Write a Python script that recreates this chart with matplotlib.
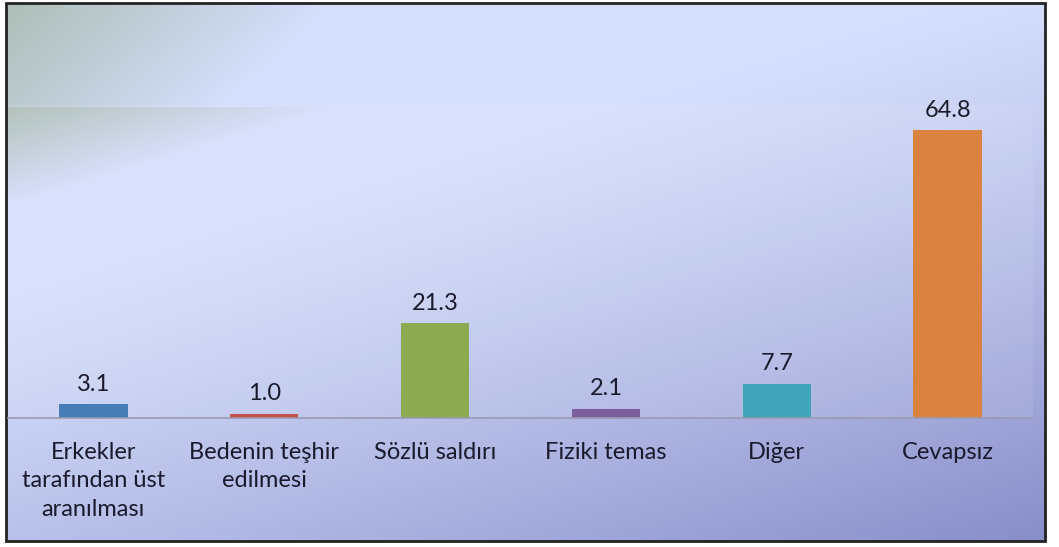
import numpy as np
import matplotlib.pyplot as plt
from matplotlib.patches import Rectangle

# data
categories = ["Erkekler\ntarafından üst\naranılması", "Bedenin teşhir\nedilmesi",
              "Sözlü saldırı", "Fiziki temas", "Diğer", "Cevapsız"]
values = [3.1, 1.0, 21.3, 2.1, 7.7, 64.8]
value_labels = ["3.1", "1.0", "21.3", "2.1", "7.7", "64.8"]
bar_colors = ["#467db4", "#c3504b", "#8caa50", "#7d5fa0", "#41a5b9", "#dc8241"]

plt.rcParams['font.family'] = ['Lato', 'DejaVu Sans']

W, H = 1059, 547
fig = plt.figure(figsize=(W / 100, H / 100), dpi=100)

# background gradient
bg = fig.add_axes([0, 0, 1, 1], zorder=-2)
u = np.linspace(0, 1, W)[None, :]
v = np.linspace(0, 1, H)[:, None]
t = np.clip((0.6 * u + v - 0.55) / 1.05, 0, 1) ** 1.2
light = np.array([213, 222, 252]) / 255
dark = np.array([135, 140, 200]) / 255
img = light[None, None, :] * (1 - t[..., None]) + dark[None, None, :] * t[..., None]

# greyish-green shading in the upper left
green = np.array([155, 175, 150]) / 255
px = np.arange(W)[None, :]
py = np.arange(H)[:, None]
a1 = np.clip(1 - px / 330 - (py - 3) / 104 * 0.35, 0, 1) * ((py >= 3) & (py < 107))
a2 = np.clip(1 - px / 330 - (py - 107) / 90 * 0.9, 0, 1) * ((py >= 107) & (py < 200))
alpha = np.maximum(a1 * 0.7, a2 * 0.7)[..., None]
img = img * (1 - alpha) + green[None, None, :] * alpha

img[:, :6] = 1
img[:, 1046:] = 1
img[:3, :] = 1
img[542:, :] = 1
bg.imshow(img, aspect='auto', extent=(0, W, H, 0))
bg.set_xlim(0, W)
bg.set_ylim(H, 0)
bg.axis('off')
bg.add_patch(Rectangle((6, 3), 1039, 538, fill=False, edgecolor='#222222', lw=2))

# chart axes (pixel -> fraction)
x0, x1 = 8, 1033
ytop, ybase = 105, 418
ax = fig.add_axes([x0 / W, 1 - ybase / H, (x1 - x0) / W, (ybase - ytop) / H])
ax.set_facecolor((1, 1, 1, 0.08))

x = np.arange(len(categories))
ax.bar(x, values, width=0.4, color=bar_colors)
for xi, val, lab in zip(x, values, value_labels):
    ax.annotate(lab, (xi, val), xytext=(0, 7), textcoords='offset points',
                ha='center', va='bottom', fontsize=17, color='#1a1a2c')

ax.set_xlim(-0.5, len(categories) - 0.5)
ax.set_ylim(0, 70.5)
ax.set_yticks([])
ax.set_xticks(x)
ax.set_xticklabels(categories, fontsize=17, color='#1a1a2c', linespacing=1.45)
ax.tick_params(axis='x', length=0, pad=17)
for s in ['top', 'right', 'left']:
    ax.spines[s].set_visible(False)
ax.spines['bottom'].set_color('#9a9ab0')
ax.spines['bottom'].set_linewidth(1.2)

fig.savefig("out.png", dpi=100)
